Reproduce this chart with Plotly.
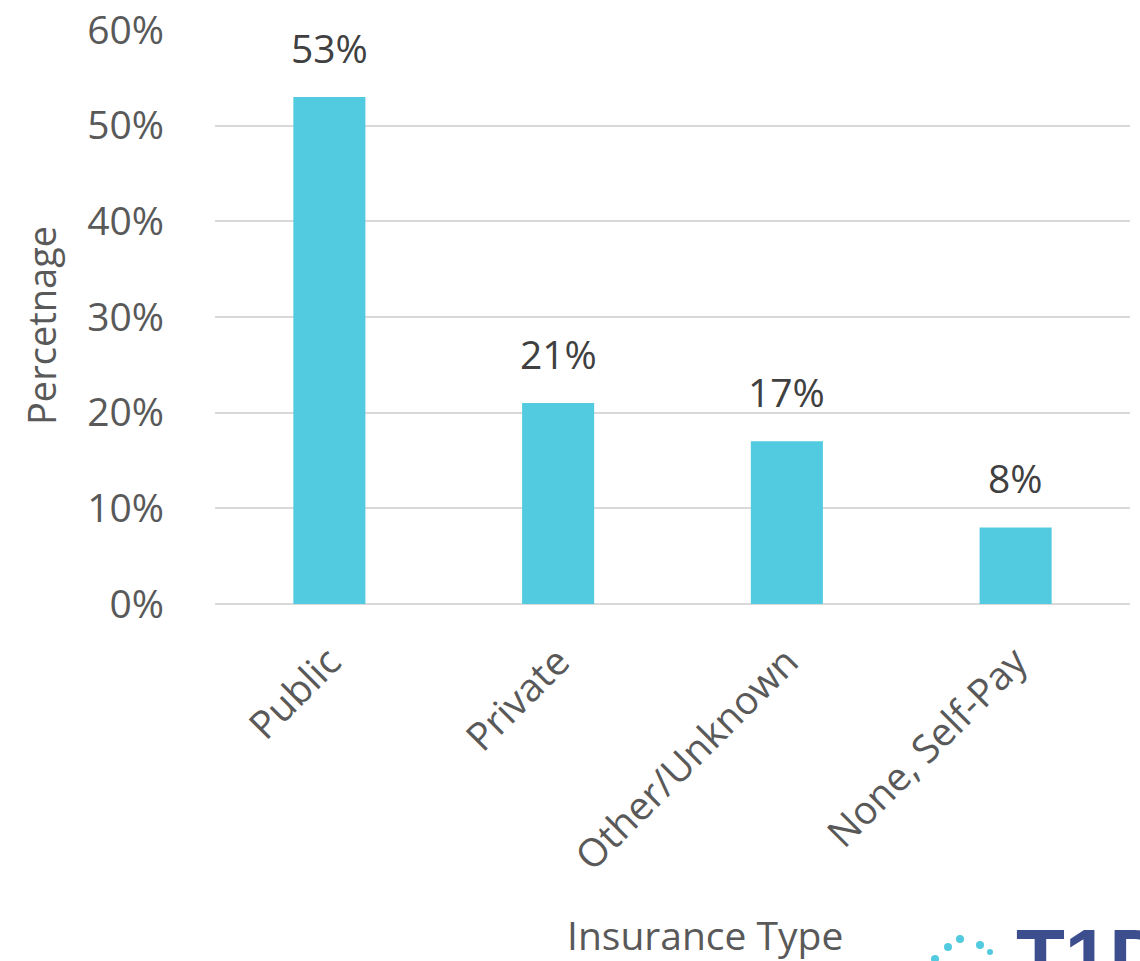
import plotly.graph_objects as go

categories = ["Public", "Private", "Other/Unknown", "None, Self-Pay"]
values = [53, 21, 17, 8]
labels = ["53%", "21%", "17%", "8%"]
y_ticks = [0, 10, 20, 30, 40, 50, 60]
y_ticktext = ["0%", "10%", "20%", "30%", "40%", "50%", "60%"]

FONT = "Open Sans"
TXT = "#595959"
FS = 39

L, R, T, B = 215, 10, 30, 357
PW, PH = 1140 - L - R, 961 - T - B

fig = go.Figure(go.Bar(
    x=categories, y=values,
    marker=dict(color="#52CBE0", line=dict(width=0)),
))

for c, v, lab in zip(categories, values, labels):
    fig.add_annotation(x=c, y=v, text=lab, showarrow=False, yanchor="bottom",
                       yshift=21, font=dict(size=FS, color="#404040", family=FONT))

fig.update_layout(
    width=1140, height=961,
    margin=dict(l=L, r=R, t=T, b=B, autoexpand=False),
    paper_bgcolor="white", plot_bgcolor="white",
    bargap=0.685,
    showlegend=False,
    font=dict(family=FONT, color=TXT),
    xaxis=dict(tickangle=-45, tickfont=dict(size=FS, color=TXT, family=FONT),
               showgrid=False, showline=False, ticks="", zeroline=False,
               ticklabelstandoff=26, automargin=False),
    yaxis=dict(range=[0, 60], tickvals=y_ticks, ticktext=y_ticktext,
               tickfont=dict(size=FS, color=TXT, family=FONT),
               showgrid=True, gridcolor="#D9D9D9", gridwidth=2,
               zeroline=True, zerolinecolor="#D9D9D9", zerolinewidth=2,
               ticks="", ticklabelstandoff=50, automargin=False),
)
fig.add_annotation(text="Percetnage", xref="paper", yref="paper",
                   x=-(L - 41) / PW, y=((T + PH) - 326) / PH, textangle=-90,
                   xanchor="center", yanchor="middle", showarrow=False,
                   font=dict(size=38, color=TXT, family=FONT))
fig.add_annotation(text="Insurance Type", xref="paper", yref="paper",
                   x=(705 - L) / PW, y=-(934 - (T + PH)) / PH,
                   xanchor="center", yanchor="middle", showarrow=False,
                   font=dict(size=FS, color=TXT, family=FONT))
# logo approximation
fig.add_annotation(text="<b>T1D</b>", xref="paper", yref="paper",
                   x=(1014 - L) / PW, y=-(961 - (T + PH)) / PH, xanchor="left", yanchor="bottom",
                   showarrow=False, font=dict(size=80, color="#3D4E8F", family="Liberation Sans"),
                   yshift=-43)
dots = [(960, 939, 4), (980, 945, 4), (948, 947, 4), (935, 959, 4), (990, 952, 3)]
for dx, dy, r in dots:
    fig.add_shape(type="circle", xref="paper", yref="paper",
                  x0=(dx - r - L) / PW, x1=(dx + r - L) / PW,
                  y0=((T + PH) - dy - r) / PH, y1=((T + PH) - dy + r) / PH,
                  fillcolor="#52CBE0", line=dict(width=0))
fig.write_html("out.html")
